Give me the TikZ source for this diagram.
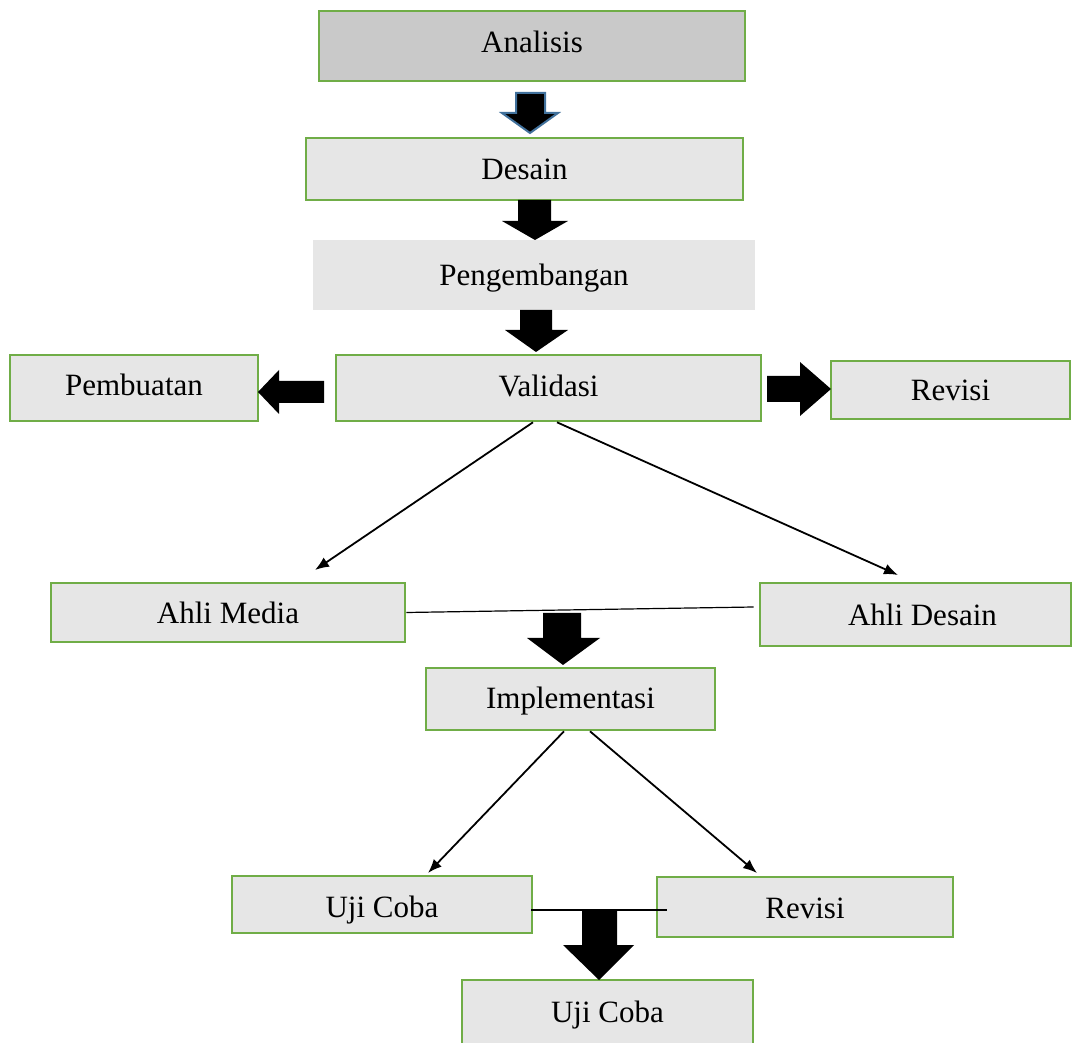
\documentclass[tikz,border=0pt]{standalone}
\usepackage{fontspec}
\setmainfont{Liberation Serif}
\usetikzlibrary{arrows.meta}
\definecolor{gbord}{HTML}{70AD47}
\definecolor{lgray}{HTML}{E6E6E6}
\definecolor{dgray}{HTML}{C9C9C9}
\definecolor{ablue}{HTML}{41719C}
\begin{document}
\begin{tikzpicture}[x=0.5pt,y=-0.5pt,
  box/.style={draw=gbord,line width=1.3pt,fill=lgray,inner sep=0pt,
    text height=11pt,text depth=0pt,
    font=\fontsize{15.5}{18}\selectfont},
  plain/.style={fill=lgray,inner sep=0pt,text height=11pt,text depth=0pt,
    font=\fontsize{15.5}{18}\selectfont},
  conn/.style={line width=0.9pt,-{Latex[length=7pt,width=5.5pt]}},
  link/.style={line width=0.6pt},
  blk/.style={fill=black}]
\useasboundingbox (0,0) rectangle (1073,1043);
\clip (0,0) rectangle (1073,1043);

\node[box,fill=dgray,minimum width=213pt,minimum height=35pt] (an) at (532,46) {\raisebox{2pt}{Analisis}};
\node[box,minimum width=218.5pt,minimum height=31pt] (de) at (524.5,169) {Desain};
\node[plain,minimum width=221pt,minimum height=35pt] (pe) at (534,275) {Pengembangan};
\node[box,minimum width=124pt,minimum height=33pt] (pb) at (134,388) {\raisebox{1.5pt}{Pembuatan}};
\node[box,minimum width=212.5pt,minimum height=33pt] (va) at (548.5,388) {\raisebox{1pt}{Validasi}};
\node[box,minimum width=119.5pt,minimum height=29pt] (rv1) at (950.5,390) {Revisi};
\node[box,minimum width=177pt,minimum height=29.5pt] (am) at (228,612.5) {Ahli Media};
\node[box,minimum width=155.5pt,minimum height=31.5pt] (ad) at (915.5,614.5) {\hspace*{7pt}Ahli Desain};
\node[box,minimum width=144.5pt,minimum height=31pt] (im) at (570.5,699) {\raisebox{0.5pt}{Implementasi}};
\node[box,minimum width=150pt,minimum height=28.5pt] (uc1) at (382,904.5) {\raisebox{-1pt}{Uji Coba}};
\node[box,minimum width=148pt,minimum height=30pt] (rv2) at (805,907) {Revisi};
\node[box,minimum width=145.5pt,minimum height=34pt] (uc2) at (607.5,1014) {\raisebox{1.5pt}{Uji Coba}};

% thin connectors
\coordinate (tam) at (315,570);
\coordinate (tad) at (898,575);
\coordinate (tuc) at (428,873);
\coordinate (trv) at (757,873);
\draw[conn] ([xshift=-7.75pt]va.south) -- (tam);
\draw[conn] ([xshift=4.25pt]va.south) -- (tad);
\draw[link] (am.east) -- ([xshift=-2.5pt,yshift=3.75pt]ad.west);
\draw[conn] ([xshift=-3.25pt]im.south) -- (tuc);
\draw[conn] ([xshift=9.75pt]im.south) -- (trv);
\draw[link] ([xshift=-1pt,yshift=-2.75pt]uc1.east) -- ([xshift=5.5pt,yshift=-1.5pt]rv2.west);

% block arrows
\filldraw[blk,draw=ablue,line width=1pt] (516,93) -- (545,93) -- (545,113) -- (558,113) -- (530,133) -- (502,113) -- (516,113) -- cycle;
\fill[blk] (518,200) -- (551,200) -- (551,221) -- (568,221) -- (535,240) -- (502,221) -- (518,221) -- cycle;
\fill[blk] (520,310) -- (552,310) -- (552,330) -- (568,330) -- (536,352) -- (505,330) -- (520,330) -- cycle;
\fill[blk] (324,381) -- (279,381) -- (279,370) -- (258,392) -- (279,414) -- (279,403) -- (324,403) -- cycle;
\fill[blk] (767,376) -- (800,376) -- (800,362) -- (831,389) -- (800,416) -- (800,402) -- (767,402) -- cycle;
\fill[blk] (543,613) -- (581,613) -- (581,638) -- (600,638) -- (563,665) -- (527,638) -- (543,638) -- cycle;
\fill[blk] (582,909) -- (617,909) -- (617,945) -- (634,945) -- (599,980) -- (563,945) -- (582,945) -- cycle;
\end{tikzpicture}
\end{document}
